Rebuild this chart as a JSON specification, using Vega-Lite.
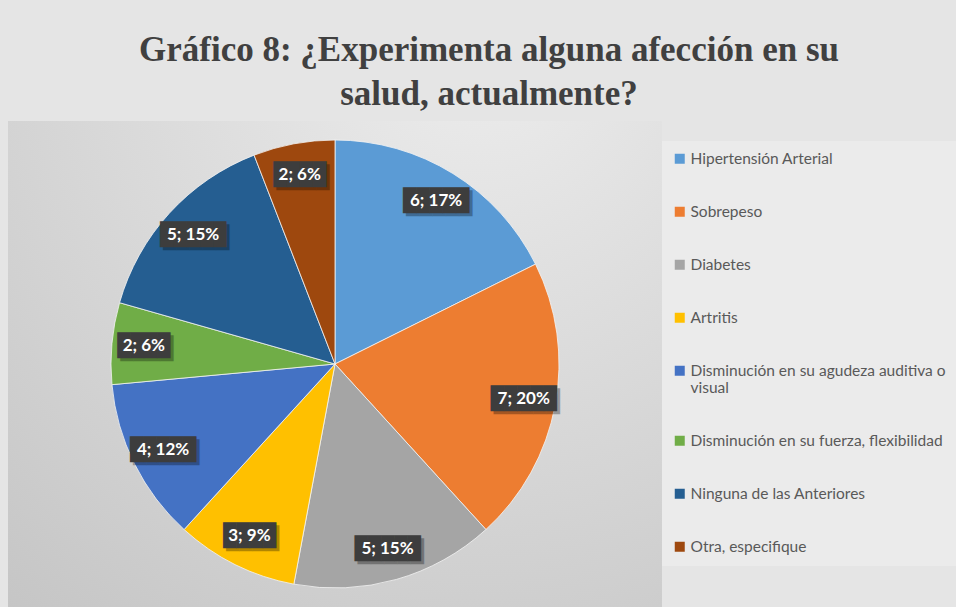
{
  "$schema": "https://vega.github.io/schema/vega-lite/v6.json",
  "width": 654,
  "height": 486,
  "autosize": {"type": "none"},
  "padding": {"left": 8, "top": 121, "right": 294, "bottom": 0},
  "background": "#e5e5e5",
  "title": {
    "text": ["Gráfico 8: ¿Experimenta alguna afección en su", "salud, actualmente?"],
    "font": "Liberation Serif",
    "fontSize": 35,
    "fontWeight": "bold",
    "color": "#404040",
    "lineHeight": 44,
    "anchor": "middle",
    "frame": "group",
    "dx": 154,
    "offset": 9
  },
  "config": {"view": {"stroke": null}},
  "data": {
    "values": [
      {"categoria": "Hipertensión Arterial", "valor": 6, "etiqueta": "6; 17%", "orden": 1},
      {"categoria": "Sobrepeso", "valor": 7, "etiqueta": "7; 20%", "orden": 2},
      {"categoria": "Diabetes", "valor": 5, "etiqueta": "5; 15%", "orden": 3},
      {"categoria": "Artritis", "valor": 3, "etiqueta": "3; 9%", "orden": 4},
      {"categoria": "Disminución en su agudeza auditiva o visual", "valor": 4, "etiqueta": "4; 12%", "orden": 5},
      {"categoria": "Disminución en su fuerza, flexibilidad", "valor": 2, "etiqueta": "2; 6%", "orden": 6},
      {"categoria": "Ninguna de las Anteriores", "valor": 5, "etiqueta": "5; 15%", "orden": 7},
      {"categoria": "Otra, especifique", "valor": 2, "etiqueta": "2; 6%", "orden": 8}
    ]
  },
  "layer": [
    {
      "data": {"values": [{"fondo": "gradiente"}]},
      "mark": {
        "type": "rect",
        "color": {
          "gradient": "radial",
          "x1": 0.72, "y1": 0.0, "r1": 0,
          "x2": 0.72, "y2": 0.0, "r2": 1.2,
          "stops": [
            {"offset": 0, "color": "#ededed"},
            {"offset": 1, "color": "#c3c3c3"}
          ]
        }
      },
      "encoding": {}
    },
    {
      "mark": {"type": "arc", "outerRadius": 224, "stroke": "#f4f4f4", "strokeWidth": 0.8},
      "encoding": {
        "theta": {"field": "valor", "type": "quantitative", "stack": true},
        "order": {"field": "orden", "type": "quantitative"},
        "color": {
          "field": "categoria",
          "type": "nominal",
          "scale": {
            "domain": ["Hipertensión Arterial", "Sobrepeso", "Diabetes", "Artritis", "Disminución en su agudeza auditiva o visual", "Disminución en su fuerza, flexibilidad", "Ninguna de las Anteriores", "Otra, especifique"],
            "range": ["#5b9bd5", "#ed7d31", "#a5a5a5", "#ffc000", "#4472c4", "#70ad47", "#255e91", "#9e480e"]
          },
          "legend": {
            "orient": "none",
            "legendX": 654,
            "legendY": 20,
            "title": null,
            "symbolType": "square",
            "symbolSize": 100,
            "symbolStrokeWidth": 0,
            "labelFont": "Lato",
            "labelFontSize": 15.5,
            "labelColor": "#595959",
            "labelOffset": 3,
            "labelLimit": 300,
            "labelBaseline": "middle",
            "fillColor": "#ebebeb",
            "padding": 10,
            "rowPadding": 36,
            "labelExpr": "datum.label == 'Disminución en su agudeza auditiva o visual' ? ['Disminución en su agudeza auditiva o', 'visual'] : datum.label"
          }
        }
      }
    },
    {
      "mark": {"type": "text", "radius": 192, "font": "DejaVu Sans Mono", "fontSize": 22, "color": "#000000", "opacity": 0.3, "dx": 3, "dy": 3},
      "encoding": {
        "theta": {"field": "valor", "type": "quantitative", "stack": true},
        "order": {"field": "orden", "type": "quantitative"},
        "text": {"condition": {"test": "length(datum.etiqueta) > 5", "value": "█████"}, "value": "████"}
      }
    },
    {
      "mark": {"type": "text", "radius": 192, "font": "DejaVu Sans Mono", "fontSize": 22, "color": "#3d3d3d"},
      "encoding": {
        "theta": {"field": "valor", "type": "quantitative", "stack": true},
        "order": {"field": "orden", "type": "quantitative"},
        "text": {"condition": {"test": "length(datum.etiqueta) > 5", "value": "█████"}, "value": "████"}
      }
    },
    {
      "mark": {"type": "text", "radius": 192, "font": "Lato", "fontSize": 17, "fontWeight": "bold", "color": "#ffffff"},
      "encoding": {
        "theta": {"field": "valor", "type": "quantitative", "stack": true},
        "order": {"field": "orden", "type": "quantitative"},
        "text": {"field": "etiqueta", "type": "nominal"}
      }
    }
  ]
}
